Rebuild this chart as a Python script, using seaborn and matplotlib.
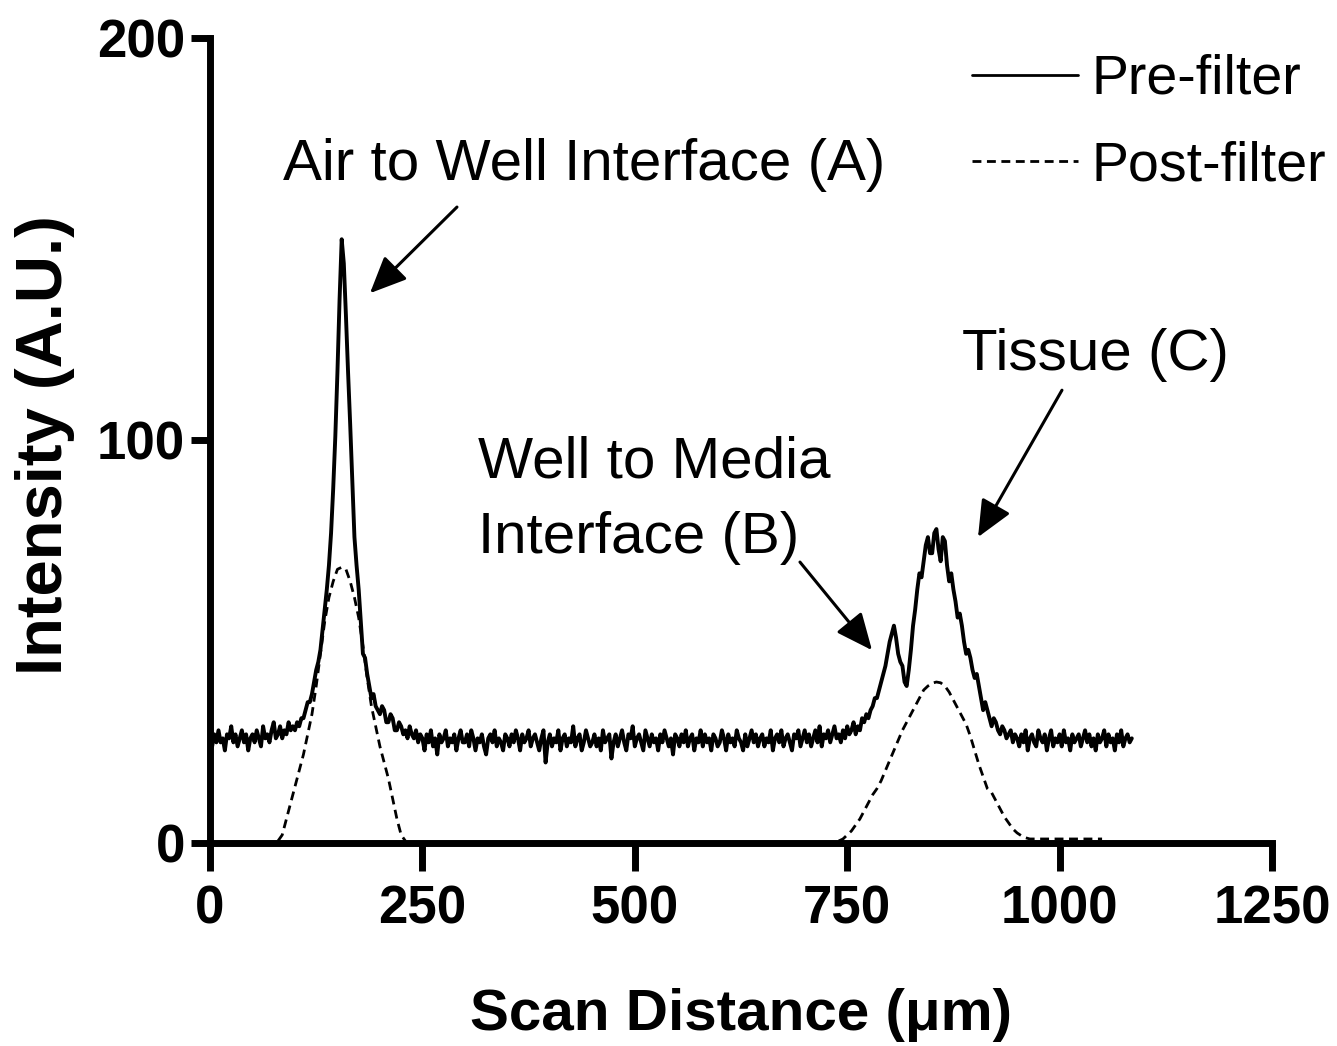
import numpy as np
import pandas as pd
import matplotlib
matplotlib.use("Agg")
import matplotlib.pyplot as plt
import seaborn as sns
from matplotlib import font_manager

# ---------------- data ----------------
pre_x = np.arange(0, 1087.5, 2.5)  # scan positions, µm (0 .. 1085)
pre_y = (
    [26, 24, 27, 25, 28, 25, 26, 23, 27, 26, 29, 25, 27, 24, 26, 28, 25, 27, 23, 26]      # 0
    + [27, 25, 28, 26, 24, 29, 26, 27, 25, 28, 30, 26, 27, 29, 26, 28, 27, 30, 28, 29]    # 50
    + [28, 30, 29, 31, 31, 33, 35, 35, 37, 40, 43, 45, 48, 53, 58, 63, 69, 77, 88, 101]   # 100
    + [117, 135, 150, 144, 131, 117, 104, 90, 76, 69, 63, 55, 47, 46, 42, 39, 36, 37, 34, 33]  # 150
    + [32, 34, 33, 30, 30, 32, 31, 28, 28, 30, 29, 27, 28, 26, 29, 27, 26, 28, 25, 27]    # 200
    + [26, 23, 27, 25, 28, 24, 26, 22, 27, 25, 26, 28, 24, 26, 25, 27, 23, 26, 28, 25]    # 250
    + [25, 27, 24, 28, 26, 23, 26, 25, 27, 24, 22, 26, 27, 25, 28, 24, 26, 25, 23, 27]    # 300
    + [26, 24, 27, 25, 28, 26, 23, 27, 25, 26, 28, 24, 26, 27, 25, 23, 26, 28, 20, 25]    # 350
    + [27, 24, 26, 25, 28, 23, 26, 27, 24, 26, 25, 29, 24, 26, 27, 23, 25, 28, 26, 24]    # 400
    + [25, 27, 24, 26, 23, 28, 25, 26, 27, 21, 25, 27, 24, 26, 28, 25, 23, 27, 26, 29]    # 450
    + [24, 26, 27, 25, 23, 28, 26, 24, 27, 25, 26, 23, 27, 25, 28, 26, 24, 26, 22, 27]    # 500
    + [26, 24, 27, 25, 28, 24, 26, 27, 23, 26, 25, 28, 24, 27, 25, 26, 23, 27, 26, 24]    # 550
    + [25, 28, 26, 23, 27, 25, 26, 24, 28, 26, 25, 23, 27, 24, 26, 28, 25, 27, 24, 26]    # 600
    + [27, 24, 26, 25, 28, 23, 26, 27, 25, 28, 24, 26, 27, 25, 23, 27, 26, 28, 24, 26]    # 650
    + [28, 25, 27, 24, 26, 28, 25, 29, 24, 27, 26, 28, 25, 27, 29, 26, 27, 25, 28, 26]    # 700
    + [29, 27, 28, 30, 27, 29, 28, 31, 30, 32, 31, 33, 34, 36, 36, 38, 40, 42, 44, 47]    # 750
    + [50, 52, 54, 51, 47, 45, 44, 40, 39, 43, 48, 54, 58, 63, 67, 66, 70, 74, 76, 72]    # 800
    + [72, 77, 78, 73, 70, 76, 75, 69, 65, 67, 63, 60, 56, 57, 54, 50, 47, 48, 46, 43]    # 850
    + [41, 42, 39, 36, 33, 35, 33, 31, 29, 31, 30, 28, 27, 29, 28, 26, 27, 28, 25, 27]    # 900
    + [26, 24, 27, 25, 28, 23, 26, 27, 25, 24, 28, 26, 25, 27, 23, 26, 28, 24, 26, 25]    # 950
    + [27, 24, 28, 25, 26, 23, 27, 25, 26, 27, 24, 26, 28, 25, 27, 24, 26, 23, 27, 25]    # 1000
    + [26, 28, 24, 27, 25, 26, 23, 27, 25, 28, 24, 26, 27, 25, 26]                        # 1050
)

postA_x = np.arange(80, 235, 5)
postA_y = [0.5, 2, 6, 10, 14, 18, 22, 27, 32, 39, 47, 55, 61, 65, 68, 68.5,
           68, 65, 61, 56, 49, 41, 34, 29, 24, 20, 16, 11, 6, 2, 0.5]

postC_x = np.arange(740, 1055, 5)
postC_y = ([0.5, 1, 2, 3, 4.5, 6, 8, 10, 12, 13.5, 15.5, 18]
           + [20.5, 23, 25.5, 28, 30, 32, 34, 36, 38, 39, 39.7, 40]
           + [39.8, 39, 37.5, 35.5, 33.5, 31.5, 29.5, 26.5, 23, 19.5, 16.5, 13.5]
           + [12.5, 10.5, 8.5, 6.5, 5, 3.5, 2.5, 1.8, 1.3, 1, 1, 1]
           + [1] * 15)

x_ticks = [0, 250, 500, 750, 1000, 1250]
y_ticks = [0, 100, 200]
series_labels = ["Pre-filter", "Post-filter"]

# ---------------- style ----------------
sns.set_style("ticks")
names = {f.name for f in font_manager.fontManager.ttflist}
FAM = "Liberation Sans Narrow" if "Liberation Sans Narrow" in names else "Liberation Sans"
plt.rcParams["font.family"] = [FAM, "DejaVu Sans"]
for k in ["text.color", "axes.labelcolor", "xtick.color", "ytick.color"]:
    plt.rcParams[k] = "black"

pre_df = pd.DataFrame({"x": pre_x, "y": pre_y})
postA_df = pd.DataFrame({"x": postA_x, "y": postA_y})
postC_df = pd.DataFrame({"x": postC_x, "y": postC_y})

fig = plt.figure(figsize=(13.37, 10.46), dpi=100)
ax = fig.add_axes([210 / 1337, 1 - 843 / 1046, 1062 / 1337, 805 / 1046])

DASH = (0, (3.2, 2.0))
sns.lineplot(data=pre_df, x="x", y="y", color="black", linewidth=2.8,
             label=series_labels[0], ax=ax)
sns.lineplot(data=postA_df, x="x", y="y", color="black", linewidth=2.0,
             linestyle=DASH, label=series_labels[1], ax=ax)
sns.lineplot(data=postC_df, x="x", y="y", color="black", linewidth=2.0,
             linestyle=DASH, ax=ax)

ax.set_xlim(0, 1250)
ax.set_ylim(0, 200)
ax.set_xticks(x_ticks)
ax.set_yticks(y_ticks)
for s in ["top", "right"]:
    ax.spines[s].set_visible(False)
for s in ["left", "bottom"]:
    ax.spines[s].set_linewidth(5)
    ax.spines[s].set_color("black")
    ax.spines[s].set_capstyle("projecting")

ax.tick_params(axis="x", direction="out", length=20, width=5, pad=10,
               labelsize=38, colors="black")
ax.tick_params(axis="y", direction="out", length=14, width=5, pad=4,
               labelsize=38, colors="black")
for lab in ax.get_xticklabels() + ax.get_yticklabels():
    lab.set_fontweight("bold")

ax.set_xlabel("Scan Distance (μm)", fontsize=42, fontweight="bold", va="baseline")
ax.xaxis.set_label_coords(0.5, (843 - 1030) / 805)
ax.set_ylabel("Intensity (A.U.)", fontsize=47, fontweight="bold", va="center")
ax.yaxis.set_label_coords((45 - 210) / 1062, (843 - 445) / 805)

# annotations
tfs = 42
ax.text(85.9, 164.7, "Air to Well Interface (A)", fontsize=tfs, ha="left", va="baseline")
ax.text(315.5, 90.9, "Well to Media", fontsize=tfs, ha="left", va="baseline")
ax.text(315.5, 72.0, "Interface (B)", fontsize=tfs, ha="left", va="baseline")
ax.text(885.1, 117.5, "Tissue (C)", fontsize=tfs, ha="left", va="baseline")

arrow_kw = dict(arrowstyle="-|>,head_length=0.45,head_width=0.2", color="black",
                lw=2.2, mutation_scale=50, shrinkA=0, shrinkB=0)
ax.annotate("", xy=(188.3, 136.6), xytext=(290.7, 158.0), arrowprops=arrow_kw)
ax.annotate("", xy=(779.2, 47.9), xytext=(694.4, 69.8), arrowprops=arrow_kw)
ax.annotate("", xy=(904.0, 76.0), xytext=(1002.8, 112.5), arrowprops=arrow_kw)

leg = ax.legend(loc="upper left", bbox_to_anchor=(972 / 1337, 1 - 54 / 1046),
                bbox_transform=fig.transFigure, frameon=False, fontsize=40,
                handlelength=1.9, handletextpad=0.25, labelspacing=0.62,
                borderpad=0, borderaxespad=0)
for line in leg.get_lines():
    line.set_linewidth(2.0)

fig.savefig("out.png", dpi=100, facecolor="white")
